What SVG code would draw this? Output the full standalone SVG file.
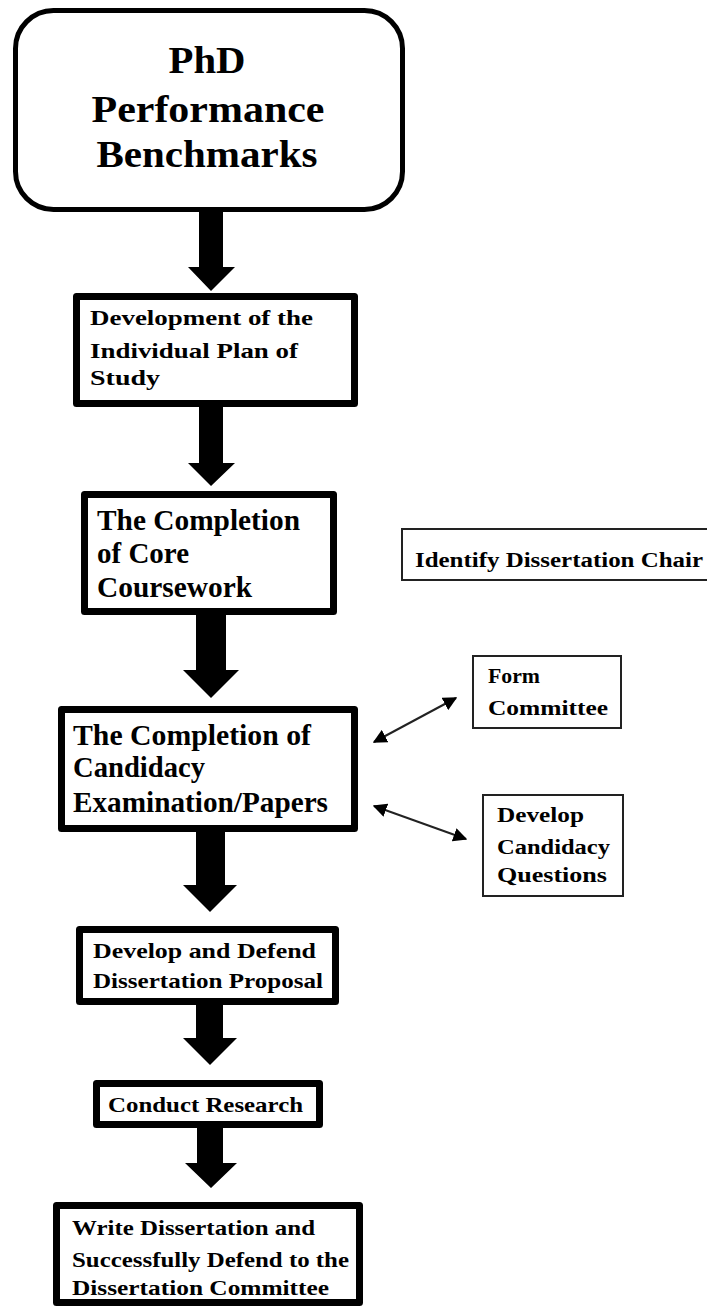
<svg xmlns="http://www.w3.org/2000/svg" width="707" height="1306" viewBox="0 0 707 1306">
<style>
.bg{fill:#fff}
.main{fill:#fff;stroke:#000;stroke-width:7;stroke-linejoin:round}
.top{fill:#fff;stroke:#000;stroke-width:5}
.side{fill:#fff;stroke:#222;stroke-width:2}
.blk{fill:#000}
.t1{font-family:"Liberation Serif",serif;font-weight:bold;font-size:38px;fill:#000}
.t2{font-family:"Liberation Serif",serif;font-weight:bold;font-size:22px;fill:#000}
.t3{font-family:"Liberation Serif",serif;font-weight:bold;font-size:29px;fill:#000}
.t4{font-family:"Liberation Serif",serif;font-weight:bold;font-size:22px;fill:#000}
.t5{font-family:"Liberation Serif",serif;font-weight:bold;font-size:20px;fill:#000}
.dbl{stroke:#222;stroke-width:2;fill:none;marker-start:url(#ah);marker-end:url(#ah)}
</style>
<defs>
<marker id="ah" viewBox="0 0 10 10" refX="9" refY="5" markerWidth="7" markerHeight="7" orient="auto-start-reverse" markerUnits="strokeWidth">
<path d="M0,0 L10,5 L0,10 z" fill="#000"/>
</marker>
</defs>
<rect class="bg" x="0" y="0" width="707" height="1306"/>

<g id="connectors">
<polygon class="blk" points="199,210 223,210 223,267 235,267 211,291 188,267 199,267"/>
<polygon class="blk" points="199,405 223,405 223,463 235,463 211,486 188,463 199,463"/>
<polygon class="blk" points="196,613 226,613 226,670 239,670 211,698 183,670 196,670"/>
<polygon class="blk" points="196,830 225,830 225,885 237,885 210,912 183,885 196,885"/>
<polygon class="blk" points="196,1003 223,1003 223,1038 237,1038 210,1065 183,1038 196,1038"/>
<polygon class="blk" points="197,1126 223,1126 223,1163 237,1163 211,1188 185,1163 197,1163"/>
<line class="dbl" x1="374" y1="742" x2="456" y2="698"/>
<line class="dbl" x1="374" y1="806" x2="466" y2="839"/>
</g>

<g id="n-phd">
<rect class="top" x="15.5" y="10.5" width="387" height="199" rx="38"/>
<text class="t1" x="207" y="73" text-anchor="middle" textLength="77" lengthAdjust="spacingAndGlyphs">PhD</text>
<text class="t1" x="208" y="122" text-anchor="middle" textLength="233" lengthAdjust="spacingAndGlyphs">Performance</text>
<text class="t1" x="207" y="167" text-anchor="middle" textLength="221" lengthAdjust="spacingAndGlyphs">Benchmarks</text>
</g>

<g id="n-plan">
<rect class="main" x="76.5" y="296.5" width="278" height="107"/>
<text class="t2" x="90" y="325" textLength="223" lengthAdjust="spacingAndGlyphs">Development of the</text>
<text class="t2" x="90" y="358" textLength="208" lengthAdjust="spacingAndGlyphs">Individual Plan of</text>
<text class="t2" x="90" y="385" textLength="70" lengthAdjust="spacingAndGlyphs">Study</text>
</g>

<g id="n-core">
<rect class="main" x="84.5" y="494.5" width="249" height="117"/>
<text class="t3" x="97" y="530" textLength="203" lengthAdjust="spacingAndGlyphs">The Completion</text>
<text class="t3" x="97" y="563" textLength="92" lengthAdjust="spacingAndGlyphs">of Core</text>
<text class="t3" x="97" y="597" textLength="155" lengthAdjust="spacingAndGlyphs">Coursework</text>
</g>

<g id="n-chair">
<rect class="side" x="402" y="529" width="320" height="51"/>
<text class="t5" x="415" y="567" textLength="288" lengthAdjust="spacingAndGlyphs">Identify Dissertation Chair</text>
</g>

<g id="n-committee">
<rect class="side" x="473" y="656" width="148" height="72"/>
<text class="t5" x="488" y="683" textLength="52" lengthAdjust="spacingAndGlyphs">Form</text>
<text class="t5" x="488" y="715" textLength="120" lengthAdjust="spacingAndGlyphs">Committee</text>
</g>

<g id="n-candidacy">
<rect class="main" x="61.5" y="709.5" width="293" height="119"/>
<text class="t3" x="73" y="745" textLength="238" lengthAdjust="spacingAndGlyphs">The Completion of</text>
<text class="t3" x="73" y="777" textLength="132" lengthAdjust="spacingAndGlyphs">Candidacy</text>
<text class="t3" x="73" y="812" textLength="255" lengthAdjust="spacingAndGlyphs">Examination/Papers</text>
</g>

<g id="n-questions">
<rect class="side" x="483" y="795" width="140" height="101"/>
<text class="t5" x="497" y="822" textLength="87" lengthAdjust="spacingAndGlyphs">Develop</text>
<text class="t5" x="497" y="854" textLength="113" lengthAdjust="spacingAndGlyphs">Candidacy</text>
<text class="t5" x="497" y="882" textLength="110" lengthAdjust="spacingAndGlyphs">Questions</text>
</g>

<g id="n-proposal">
<rect class="main" x="79.5" y="929.5" width="256" height="72"/>
<text class="t4" x="93" y="958" textLength="223" lengthAdjust="spacingAndGlyphs">Develop and Defend</text>
<text class="t4" x="93" y="988" textLength="230" lengthAdjust="spacingAndGlyphs">Dissertation Proposal</text>
</g>

<g id="n-research">
<rect class="main" x="96.5" y="1083.5" width="223" height="41"/>
<text class="t4" x="108" y="1112" textLength="195" lengthAdjust="spacingAndGlyphs">Conduct Research</text>
</g>

<g id="n-dissertation">
<rect class="main" x="56.5" y="1205.5" width="303" height="97"/>
<text class="t4" x="72" y="1235" textLength="243" lengthAdjust="spacingAndGlyphs">Write Dissertation and</text>
<text class="t4" x="72" y="1267" textLength="277" lengthAdjust="spacingAndGlyphs">Successfully Defend to the</text>
<text class="t4" x="72" y="1295" textLength="257" lengthAdjust="spacingAndGlyphs">Dissertation Committee</text>
</g>
</svg>
